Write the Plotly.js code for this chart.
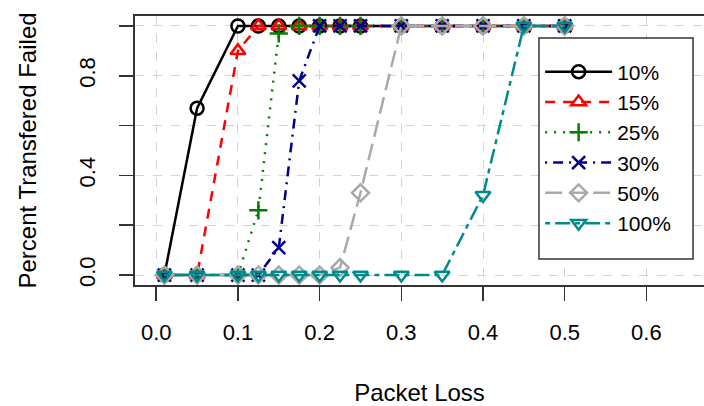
<!DOCTYPE html>
<html>
<head>
<meta charset="utf-8">
<script src="https://cdn.plot.ly/plotly-3.0.1.min.js"></script>
<style>
html,body{margin:0;padding:0;overflow:hidden;background:#fff;}
#chart{width:704px;height:406px;}
</style>
</head>
<body>
<div id="chart"></div>
<script>
// Data
const packetLoss = [0.01, 0.05, 0.1, 0.125, 0.15, 0.175, 0.2, 0.225, 0.25, 0.3, 0.35, 0.4, 0.45, 0.5];
const fail10  = [0, 0.67, 1, 1, 1, 1, 1, 1, 1, 1, 1, 1, 1, 1];
const fail15  = [0, 0, 0.9, 1, 1, 1, 1, 1, 1, 1, 1, 1, 1, 1];
const fail25  = [0, 0, 0, 0.26, 0.97, 1, 1, 1, 1, 1, 1, 1, 1, 1];
const fail30  = [0, 0, 0, 0, 0.11, 0.78, 1, 1, 1, 1, 1, 1, 1, 1];
const fail50  = [0, 0, 0, 0, 0, 0, 0, 0.03, 0.33, 1, 1, 1, 1, 1];
const fail100 = [0, 0, 0, 0, 0, 0, 0, 0, 0, 0, 0, 0.32, 1, 1];
const seriesNames = ["10%", "15%", "25%", "30%", "50%", "100%"];
const yTickVals = [0, 0.2, 0.4, 0.6, 0.8, 1.0];
const yTickText = ["0.0", "", "0.4", "", "0.8", ""];
const xTickVals = [0, 0.1, 0.2, 0.3, 0.4, 0.5, 0.6];

const seriesData = [fail10, fail15, fail25, fail30, fail50, fail100];
const styles = [
  {color: "#000000", dash: "solid", symbol: "circle-open"},
  {color: "#FF0000", dash: "10px,8px", symbol: "triangle-up-open"},
  {color: "#007F00", dash: "2px,7px", symbol: "cross-thin-open"},
  {color: "#00008B", dash: "2px,6px,10px,6px", symbol: "x-thin-open"},
  {color: "#A9A9A9", dash: "17px,7px", symbol: "diamond-open"},
  {color: "#008B8B", dash: "5px,5px,15px,5px", symbol: "triangle-down-open"}
];

const traces = seriesData.map((ys, i) => ({
  type: "scatter",
  mode: "lines+markers",
  name: seriesNames[i],
  x: packetLoss,
  y: ys,
  line: {color: styles[i].color, width: 2.5, dash: styles[i].dash},
  marker: {
    symbol: styles[i].symbol,
    size: 13,
    color: styles[i].color,
    line: {color: styles[i].color, width: 2.5}
  }
}));

const font = "Liberation Sans, Arial, Helvetica, sans-serif";

const layout = {
  width: 704,
  height: 406,
  margin: {l: 135, r: 0, t: 16, b: 121, pad: 0},
  paper_bgcolor: "#ffffff",
  plot_bgcolor: "#ffffff",
  font: {family: font, size: 22, color: "#000"},
  showlegend: true,
  xaxis: {
    range: [-0.026, 0.6705],
    tickvals: xTickVals,
    tickformat: ".1f",
    ticks: "outside",
    ticklen: 14,
    tickwidth: 1.5,
    tickcolor: "#333",
    showline: true,
    linecolor: "#333",
    linewidth: 2,
    mirror: true,
    showgrid: true,
    gridcolor: "#d3d3d3",
    griddash: "dash",
    gridwidth: 1,
    zeroline: false,
    tickfont: {family: font, size: 22, color: "#000"},
    ticklabelstandoff: 13,
    title: {text: "Packet Loss", font: {family: font, size: 24, color: "#000"}, standoff: 40},
    automargin: false
  },
  yaxis: {
    range: [-0.04, 1.04],
    tickvals: yTickVals,
    ticktext: yTickText,
    tickangle: -90,
    ticks: "outside",
    ticklen: 14,
    tickwidth: 1.5,
    tickcolor: "#333",
    showline: true,
    linecolor: "#333",
    linewidth: 2,
    mirror: false,
    showgrid: true,
    gridcolor: "#d3d3d3",
    griddash: "dash",
    gridwidth: 1,
    zeroline: false,
    tickfont: {family: font, size: 22, color: "#000"},
    ticklabelstandoff: 15,
    title: {text: "Percent Transfered Failed", font: {family: font, size: 24, color: "#000"}, standoff: 32},
    automargin: false
  },
  shapes: [{
    type: "rect",
    xref: "paper", yref: "paper",
    x0: 0.710, x1: 0.9807, y0: 0.0967, y1: 0.918,
    fillcolor: "#ffffff",
    line: {color: "#333", width: 1.5},
    layer: "above"
  }],
  legend: {
    x: 0.712,
    y: 0.868,
    xanchor: "left",
    yanchor: "top",
    bgcolor: "rgba(0,0,0,0)",
    borderwidth: 0,
    font: {family: font, size: 21, color: "#000"},
    itemwidth: 67,
    tracegroupgap: 0
  }
};

Plotly.newPlot("chart", traces, layout, {staticPlot: true, displayModeBar: false});
</script>
</body>
</html>
